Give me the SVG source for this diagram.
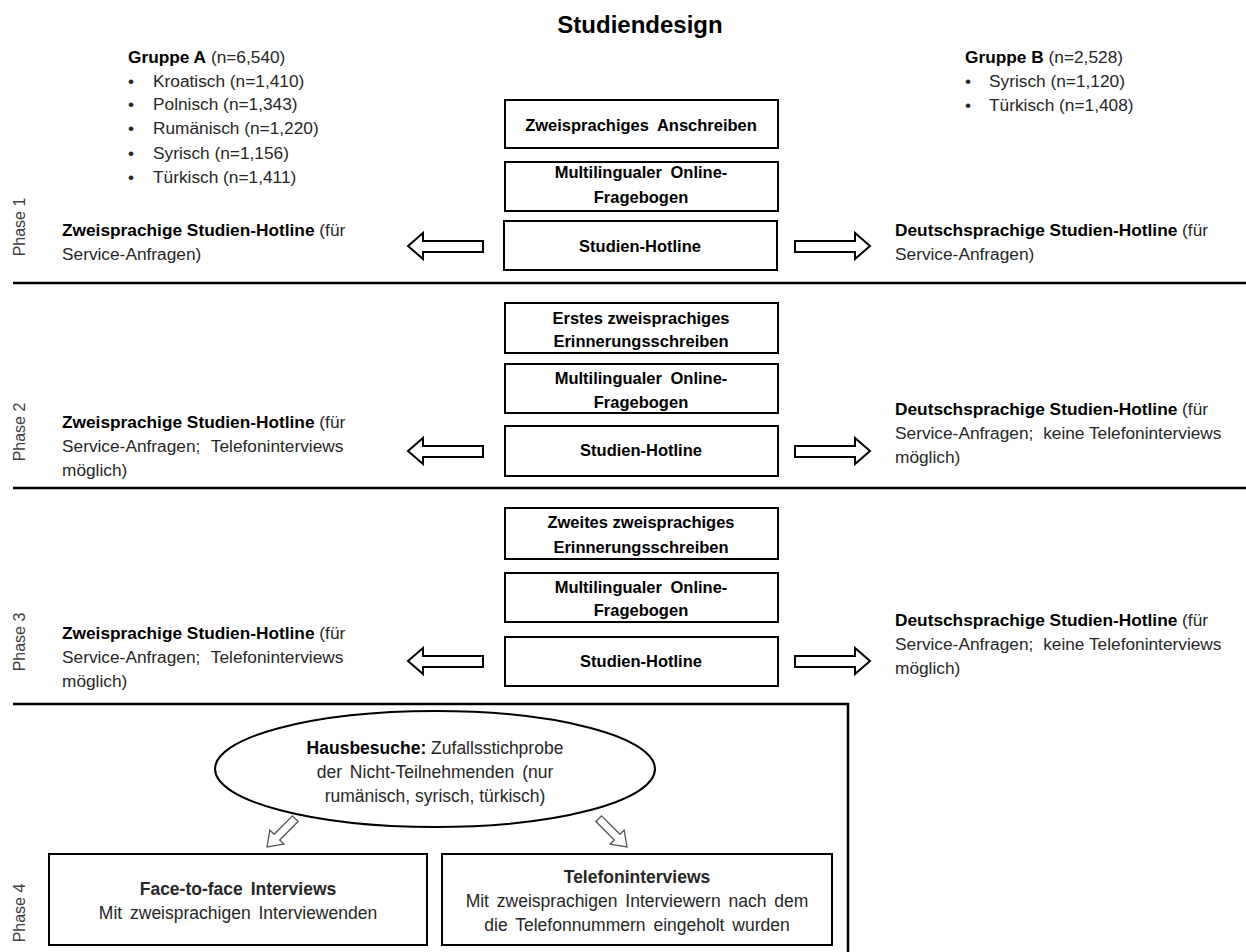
<svg xmlns="http://www.w3.org/2000/svg" width="1246" height="952" viewBox="0 0 1246 952">
<style>
text{font-family:"Liberation Sans",Arial,sans-serif;}
.t{font-size:24px;font-weight:bold;fill:#000;}
.r{font-size:17.3px;fill:#262626;}
.b{font-weight:bold;fill:#000;}
.bx{font-size:16.5px;font-weight:bold;fill:#000;text-anchor:middle;}
.w4{word-spacing:4px;}
.box{fill:#fff;stroke:#000;stroke-width:2;}
.ph{font-size:16px;fill:#404040;text-anchor:middle;}
.sep{stroke:#000;stroke-width:2.5;fill:none;}
.arr{fill:#fff;stroke:#000;stroke-width:2;stroke-linejoin:miter;}
.darr{fill:#fff;stroke:#555;stroke-width:1.3;}
.e{font-size:17.5px;fill:#262626;text-anchor:middle;}
.e3{word-spacing:3px;}
</style>
<defs>
<polygon id="la" points="408,0 423,-13 423,-5 483,-5 483,6 423,6 423,13"/>
<polygon id="ra" points="795,-5 855,-5 855,-13 870,0 855,13 855,6 795,6"/>
<polygon id="da" points="-40,-4 -14,-4 -14,-10 0,0 -14,10 -14,4 -40,4"/>
</defs>

<text class="t" x="640" y="33" text-anchor="middle">Studiendesign</text>

<g id="gruppeA">
<text class="r" x="128" y="63"><tspan class="b">Gruppe A</tspan> (n=6,540)</text>
<text class="r" x="128" y="87">•<tspan x="153">Kroatisch (n=1,410)</tspan></text>
<text class="r" x="128" y="110">•<tspan x="153">Polnisch (n=1,343)</tspan></text>
<text class="r" x="128" y="134">•<tspan x="153">Rumänisch (n=1,220)</tspan></text>
<text class="r" x="128" y="159">•<tspan x="153">Syrisch (n=1,156)</tspan></text>
<text class="r" x="128" y="183">•<tspan x="153">Türkisch (n=1,411)</tspan></text>
</g>

<g id="gruppeB">
<text class="r" x="965" y="63"><tspan class="b">Gruppe B</tspan> (n=2,528)</text>
<text class="r" x="965" y="87">•<tspan x="989">Syrisch (n=1,120)</tspan></text>
<text class="r" x="965" y="111">•<tspan x="989">Türkisch (n=1,408)</tspan></text>
</g>

<g id="phase-labels">
<text class="ph" transform="translate(25,227) rotate(-90)">Phase 1</text>
<text class="ph" transform="translate(25,432) rotate(-90)">Phase 2</text>
<text class="ph" transform="translate(25,642) rotate(-90)">Phase 3</text>
<text class="ph" transform="translate(25,913) rotate(-90)">Phase 4</text>
</g>

<g id="separators">
<line class="sep" x1="13" y1="283" x2="1246" y2="283"/>
<line class="sep" x1="13" y1="488" x2="1246" y2="488"/>
<polyline class="sep" points="13,704 848,704 848,952"/>
</g>

<!-- Phase 1 -->
<g id="p1-anschreiben">
<rect class="box" x="505" y="100" width="273" height="48"/>
<text class="bx w4" x="641" y="131">Zweisprachiges Anschreiben</text>
</g>
<g id="p1-fragebogen">
<rect class="box" x="505" y="162" width="273" height="49"/>
<text class="bx w4" x="641" y="178">Multilingualer Online-</text>
<text class="bx" x="641" y="203">Fragebogen</text>
</g>
<g id="p1-hotline">
<rect class="box" x="504" y="221" width="273" height="49"/>
<text class="bx" x="640" y="252">Studien-Hotline</text>
</g>
<g id="p1-left">
<text class="r" x="62" y="236"><tspan class="b">Zweisprachige Studien-Hotline</tspan> (für</text>
<text class="r" x="62" y="260">Service-Anfragen)</text>
</g>
<g id="p1-right">
<text class="r" x="895" y="236"><tspan class="b">Deutschsprachige Studien-Hotline</tspan> (für</text>
<text class="r" x="895" y="260">Service-Anfragen)</text>
</g>

<!-- Phase 2 -->
<g id="p2-erinnerung">
<rect class="box" x="505" y="303" width="273" height="50"/>
<text class="bx" x="641" y="324">Erstes zweisprachiges</text>
<text class="bx" x="641" y="347">Erinnerungsschreiben</text>
</g>
<g id="p2-fragebogen">
<rect class="box" x="505" y="364" width="273" height="49"/>
<text class="bx w4" x="641" y="384">Multilingualer Online-</text>
<text class="bx" x="641" y="408">Fragebogen</text>
</g>
<g id="p2-hotline">
<rect class="box" x="505" y="426" width="273" height="50"/>
<text class="bx" x="641" y="456">Studien-Hotline</text>
</g>
<g id="p2-left">
<text class="r" x="62" y="428"><tspan class="b">Zweisprachige Studien-Hotline</tspan> (für</text>
<text class="r" x="62" y="452">Service-Anfragen; <tspan dx="6">Telefoninterviews</tspan></text>
<text class="r" x="62" y="476">möglich)</text>
</g>
<g id="p2-right">
<text class="r" x="895" y="415"><tspan class="b">Deutschsprachige Studien-Hotline</tspan> (für</text>
<text class="r" x="895" y="439">Service-Anfragen; <tspan dx="5">keine Telefoninterviews</tspan></text>
<text class="r" x="895" y="463">möglich)</text>
</g>

<!-- Phase 3 -->
<g id="p3-erinnerung">
<rect class="box" x="505" y="508" width="273" height="51"/>
<text class="bx" x="641" y="528">Zweites zweisprachiges</text>
<text class="bx" x="641" y="553">Erinnerungsschreiben</text>
</g>
<g id="p3-fragebogen">
<rect class="box" x="505" y="573" width="273" height="49"/>
<text class="bx w4" x="641" y="593">Multilingualer Online-</text>
<text class="bx" x="641" y="616">Fragebogen</text>
</g>
<g id="p3-hotline">
<rect class="box" x="505" y="637" width="273" height="49"/>
<text class="bx" x="641" y="667">Studien-Hotline</text>
</g>
<g id="p3-left">
<text class="r" x="62" y="639"><tspan class="b">Zweisprachige Studien-Hotline</tspan> (für</text>
<text class="r" x="62" y="663">Service-Anfragen; <tspan dx="6">Telefoninterviews</tspan></text>
<text class="r" x="62" y="687">möglich)</text>
</g>
<g id="p3-right">
<text class="r" x="895" y="626"><tspan class="b">Deutschsprachige Studien-Hotline</tspan> (für</text>
<text class="r" x="895" y="650">Service-Anfragen; <tspan dx="5">keine Telefoninterviews</tspan></text>
<text class="r" x="895" y="674">möglich)</text>
</g>

<!-- Phase 4 -->
<g id="p4-hausbesuche">
<ellipse class="box" cx="435" cy="769" rx="220" ry="58"/>
<text class="e" x="435" y="754"><tspan class="b">Hausbesuche:</tspan> Zufallsstichprobe</text>
<text class="e e3" x="435" y="778">der Nicht-Teilnehmenden (nur</text>
<text class="e" x="435" y="802">rumänisch, syrisch, türkisch)</text>
</g>
<g id="p4-face">
<rect class="box" x="49" y="854" width="378" height="91"/>
<text class="e b e3" x="238" y="895">Face-to-face Interviews</text>
<text class="e e3" x="238" y="919">Mit zweisprachigen Interviewenden</text>
</g>
<g id="p4-telefon">
<rect class="box" x="442" y="854" width="390" height="91"/>
<text class="e b" x="637" y="883">Telefoninterviews</text>
<text class="e e3" x="637" y="907">Mit zweisprachigen Interviewern nach dem</text>
<text class="e e3" x="637" y="931">die Telefonnummern eingeholt wurden</text>
</g>

<g id="connectors">
<use href="#la" class="arr" transform="translate(0,246)"/>
<use href="#ra" class="arr" transform="translate(0,246)"/>
<use href="#la" class="arr" transform="translate(0,451)"/>
<use href="#ra" class="arr" transform="translate(0,451)"/>
<use href="#la" class="arr" transform="translate(0,661)"/>
<use href="#ra" class="arr" transform="translate(0,661)"/>
<use href="#da" class="darr" transform="translate(267,847) rotate(135)"/>
<use href="#da" class="darr" transform="translate(627,847) rotate(45)"/>
</g>
</svg>
